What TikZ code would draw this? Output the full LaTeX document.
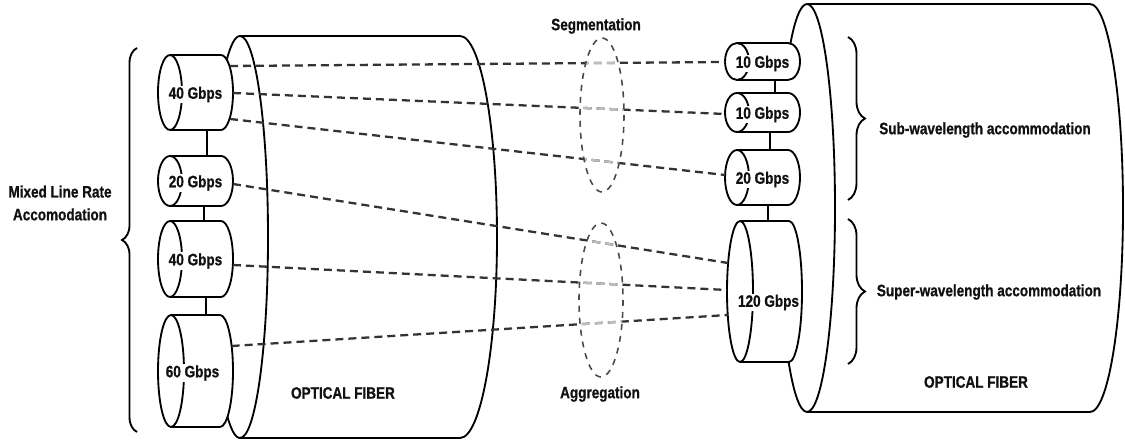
\documentclass[tikz,border=0pt]{standalone}
\usepackage{fontspec}
\setmainfont{Liberation Sans}[FakeStretch=0.82,BoldFont={Liberation Sans Bold}]
\newfontfamily\labelfont{Liberation Sans Bold}[FakeStretch=0.82,FakeBold=0.8]
\usetikzlibrary{calc,decorations.pathreplacing}
\definecolor{ink}{HTML}{111111}
\definecolor{linkgray}{HTML}{333333}
\definecolor{fadegray}{HTML}{BDBDBD}
\definecolor{ringgray}{HTML}{4A4A4A}

% A horizontal tube: name, left x, right x, top y, bottom y, end radius, label,
% label offset x, label offset y
\newcommand\ratetube[9]{%
  \coordinate (#1-top) at ({(#2+#3)/2},#4);
  \coordinate (#1-bot) at ({(#2+#3)/2},#5);
  \draw[outline,fill=white] ({#2+#6},#4) -- ({#3-#6},#4)
    arc[start angle=-90,end angle=90,x radius=#6,y radius={(#5-#4)/2}]
    -- ({#2+#6},#5)
    arc[start angle=90,end angle=270,x radius=#6,y radius={(#5-#4)/2}] -- cycle;
  \draw[outline] ({#2+#6},#4)
    arc[start angle=-90,end angle=90,x radius=#6,y radius={(#5-#4)/2}];
  \node[rate] (#1) at ({(#2+#3)/2+#8},{(#4+#5)/2+#9}) {#7};
}

\begin{document}
\begin{tikzpicture}[x=0.02cm,y=-0.02cm,
  outline/.style={line width=1.05pt,draw=black,line join=round},
  rate/.style={font=\labelfont\fontsize{9.4pt}{11pt}\selectfont,text=ink,fill=white,inner sep=0.6pt},
  caption/.style={font=\labelfont\fontsize{9.4pt}{13pt}\selectfont,text=ink,align=center,inner sep=0pt},
  link/.style={line width=1.3pt,draw=linkgray,dash pattern=on 0.16cm off 0.1cm},
  ring/.style={line width=0.9pt,draw=ringgray,dash pattern=on 0.12cm off 0.12cm},
  bracket/.style={line width=1.05pt,decorate,decoration={brace,amplitude=#1}},
]
\useasboundingbox (0,0) rectangle (1125,445);

% left fiber
\draw[outline] (240,36) -- (460,36)
  arc[start angle=-90,end angle=90,x radius=37,y radius=201] -- (240,438);
\draw[outline] (240,36) arc[start angle=-90,end angle=90,x radius=28,y radius=201];
\draw[outline] (240,36) arc[start angle=270,end angle=240,x radius=28,y radius=201];
\draw[outline] (240,438) arc[start angle=90,end angle=120,x radius=28,y radius=201];

% right fiber
\draw[outline] (807,4) -- (1090,4)
  arc[start angle=-90,end angle=90,x radius=33,y radius=204] -- (807,412);
\draw[outline] (807,4) arc[start angle=-90,end angle=90,x radius=28,y radius=204];
\draw[outline] (807,4) arc[start angle=270,end angle=230,x radius=28,y radius=204];
\draw[outline] (807,412) arc[start angle=90,end angle=135,x radius=28,y radius=204];

% wavelength tubes
\ratetube{a1}{158}{233}{55}{130}{12}{40 Gbps}{0}{2}
\ratetube{a2}{158}{233}{156}{206}{12}{20 Gbps}{0}{2}
\ratetube{a3}{158}{233}{221}{297}{12}{40 Gbps}{0}{2}
\ratetube{a4}{158}{233}{315}{427}{13}{60 Gbps}{-3}{2}
\ratetube{b1}{725}{800}{43}{80}{12}{10 Gbps}{0}{2}
\ratetube{b2}{725}{800}{93}{132}{12}{10 Gbps}{0}{2}
\ratetube{b3}{725}{800}{150}{205}{12}{20 Gbps}{0}{2}
\ratetube{b4}{727}{802}{221}{362}{13}{120 Gbps}{4}{11}

% joints between stacked tubes
\draw[outline] ($(a1-bot)+(11.5,0)$) -- ($(a2-top)+(11.5,0)$);
\draw[outline] ($(a2-bot)+(8.5,0)$) -- ($(a3-top)+(8.5,0)$);
\draw[outline] ($(a3-bot)+(10.5,0)$) -- ($(a4-top)+(10.5,0)$);
\draw[outline] ($(b1-bot)+(12.5,0)$) -- ($(b2-top)+(12.5,0)$);
\draw[outline] ($(b2-bot)+(7.5,0)$) -- ($(b3-top)+(7.5,0)$);
\draw[outline] ($(b3-bot)+(5.5,0)$) -- ($(b4-top)+(3.5,0)$);

% link end points on the tube faces
\coordinate (a1o1) at (230,66);
\coordinate (a1o2) at (233,93);
\coordinate (a1o3) at (230,119);
\coordinate (a2o) at (233,184);
\coordinate (a3o) at (233,265);
\coordinate (a4o) at (231.6,346);
\coordinate (b1i) at (725,62);
\coordinate (b2i) at (725,114);
\coordinate (b3i) at (725,175);
\coordinate (b4i1) at (728,263);
\coordinate (b4i2) at (727,290);
\coordinate (b4i3) at (727.7,315);

\newcommand\alllinks[1]{%
  \draw[link,#1] (a1o1) -- (b1i);
  \draw[link,#1] (a1o2) -- (b2i);
  \draw[link,#1] (a1o3) -- (b3i);
  \draw[link,#1] (a2o) -- (b4i1);
  \draw[link,#1] (a3o) -- (b4i2);
  \draw[link,#1] (a4o) -- (b4i3);
}
\alllinks{}
\begin{scope}
  \clip (602,115) ellipse[x radius=22,y radius=77]
        (601,300) ellipse[x radius=22,y radius=77];
  \alllinks{draw=fadegray}
\end{scope}

% segmentation and aggregation rings
\draw[ring] (602,115) ellipse[x radius=22,y radius=77];
\draw[ring] (601,300) ellipse[x radius=22,y radius=77];

% braces
\draw[bracket=0.3cm] (137,432) -- (137,48);
\draw[bracket=0.34cm] (848,37) -- (848,200);
\draw[bracket=0.34cm] (848,219) -- (848,364);

% captions
\node[caption] (mlr) at (60,203) {Mixed Line Rate\\Accomodation};
\node[caption] (seg) at (596,26) {Segmentation};
\node[caption] (agg) at (600,394) {Aggregation};
\node[caption] (fibl) at (343,393) {OPTICAL FIBER};
\node[caption] (fibr) at (976,382) {OPTICAL FIBER};
\node[caption] (sub) at (985,130) {Sub-wavelength accommodation};
\node[caption] (sup) at (989,292) {Super-wavelength accommodation};
\end{tikzpicture}
\end{document}
